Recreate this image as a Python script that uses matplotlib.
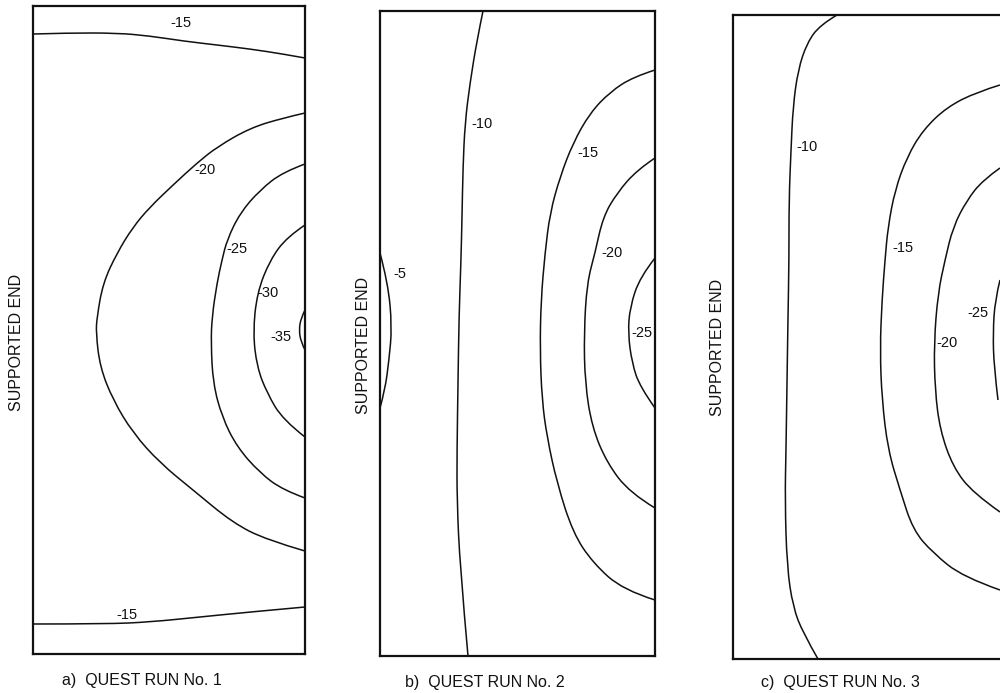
import matplotlib.pyplot as plt
from matplotlib.path import Path
from matplotlib.patches import PathPatch

plt.rcParams['font.family'] = ['Liberation Sans', 'DejaVu Sans']

# contour lines, scan pixel units (x to the right, y downwards)
run1_levels = [-15, -20, -25, -30, -35, -15]
run1_x = [
    [33, 67, 117, 150, 183, 217, 250, 283, 305],
    [305, 283, 250, 217, 197, 173, 150, 133, 117, 103, 97, 96, 100, 113, 133, 160, 193, 233, 267, 305],
    [305, 283, 260, 240, 227, 222, 217, 212, 211, 213, 222, 237, 260, 283, 305],
    [305, 287, 270, 257, 253, 257, 267, 283, 305],
    [305, 301, 299, 301, 305],
    [33, 107, 150, 200, 250, 305],
]
run1_y = [
    [34, 33, 33, 36, 41, 45, 49, 54, 58],
    [113, 118, 128, 147, 163, 185, 207, 227, 253, 283, 317, 333, 367, 400, 433, 463, 490, 523, 540, 551],
    [164, 172, 190, 213, 240, 260, 283, 317, 343, 383, 417, 447, 473, 490, 498],
    [225, 237, 260, 293, 333, 367, 393, 420, 437],
    [310, 318, 330, 342, 350],
    [624, 624, 622, 617, 612, 607],
]

run2_levels = [-5, -10, -15, -20, -25]
run2_x = [
    [380, 388, 392, 389, 385, 380],
    [483, 477, 470, 465, 463, 462, 461, 459, 458, 457, 457, 460, 468],
    [655, 633, 610, 590, 573, 560, 550, 545, 541, 540, 542, 547, 557, 573, 593, 623, 655],
    [655, 637, 617, 603, 595, 587, 584, 585, 592, 607, 630, 655],
    [655, 640, 630, 628, 632, 640, 655],
]
run2_y = [
    [253, 283, 327, 360, 390, 408],
    [11, 40, 83, 123, 167, 217, 260, 317, 383, 450, 500, 567, 656],
    [70, 77, 92, 113, 143, 177, 213, 253, 300, 350, 400, 437, 483, 533, 563, 590, 600],
    [158, 170, 193, 217, 253, 283, 333, 383, 427, 463, 493, 508],
    [258, 277, 307, 333, 363, 387, 408],
]

run3_levels = [-10, -15, -20, -25]
run3_x = [
    [837, 820, 807, 798, 793, 791, 789, 789, 788, 787, 786, 785, 787, 793, 803, 818],
    [1000, 977, 947, 923, 907, 895, 888, 885, 882, 880, 882, 888, 900, 913, 933, 963, 1000],
    [1000, 983, 967, 953, 945, 938, 934, 935, 940, 953, 973, 1000],
    [1000, 995, 993, 994, 998],
]
run3_y = [
    [15, 25, 43, 70, 107, 150, 200, 260, 317, 383, 450, 500, 567, 607, 633, 659],
    [85, 92, 107, 130, 157, 190, 227, 260, 300, 350, 400, 450, 490, 530, 553, 577, 590],
    [168, 180, 200, 227, 260, 293, 343, 390, 430, 467, 493, 512],
    [280, 300, 333, 367, 400],
]

captions = ['a)  QUEST RUN No. 1', 'b)  QUEST RUN No. 2', 'c)  QUEST RUN No. 3']

# layout (pixels in the 1000x693 picture)
W, H = 1000, 693
boxes = [(33, 305, 6, 654), (380, 655, 11, 656), (733, 1008, 15, 659)]
label_at = [
    [(170, 23), (194, 170), (226, 249), (257, 293), (270, 337), (116, 615)],
    [(393, 274), (471, 124), (577, 153), (601, 253), (631, 333)],
    [(796, 147), (892, 248), (936, 343), (967, 313)],
]
caption_at = [(62, 680), (405, 682), (761, 683)]
side_at = [(17, 342), (363, 345), (717, 347)]

runs = [
    (run1_levels, run1_x, run1_y),
    (run2_levels, run2_x, run2_y),
    (run3_levels, run3_x, run3_y),
]

ink = '#111111'


def smooth_path(x, y):
    # quadratic bezier pieces: traced points act as control points,
    # so the drawn line is rounded instead of a polygon
    pts = list(zip(x, y))
    if len(pts) < 3:
        return Path(pts)
    verts = [pts[0]]
    codes = [Path.MOVETO]
    for k in range(1, len(pts) - 1):
        p, q = pts[k], pts[k + 1]
        end = q if k == len(pts) - 2 else ((p[0] + q[0]) / 2, (p[1] + q[1]) / 2)
        verts += [p, end]
        codes += [Path.CURVE3, Path.CURVE3]
    return Path(verts, codes)


fig = plt.figure(figsize=(W / 100, H / 100), dpi=100)

for i, (levels, xs, ys) in enumerate(runs):
    left, right, top, bottom = boxes[i]
    ax = fig.add_axes([left / W, 1 - bottom / H, (right - left) / W, (bottom - top) / H])
    ax.set_xlim(left, right)
    ax.set_ylim(bottom, top)
    ax.set_xticks([])
    ax.set_yticks([])
    for s in ax.spines.values():
        s.set_linewidth(1.6)
        s.set_color(ink)
    for lev, x, y, (tx, ty) in zip(levels, xs, ys, label_at[i]):
        ax.add_patch(PathPatch(smooth_path(x, y), fill=False, edgecolor=ink, lw=1.1))
        ax.text(tx, ty, f'-{abs(lev)}', ha='left', va='center', fontsize=10.5, color=ink)

    cx, cy = caption_at[i]
    fig.text(cx / W, 1 - cy / H, captions[i], ha='left', va='center', fontsize=11.5, color=ink)
    sx, sy = side_at[i]
    fig.text(sx / W, 1 - sy / H, 'SUPPORTED END', rotation=90, ha='center', va='center',
             fontsize=11.5, color=ink)

fig.savefig('out.png', dpi=100)
